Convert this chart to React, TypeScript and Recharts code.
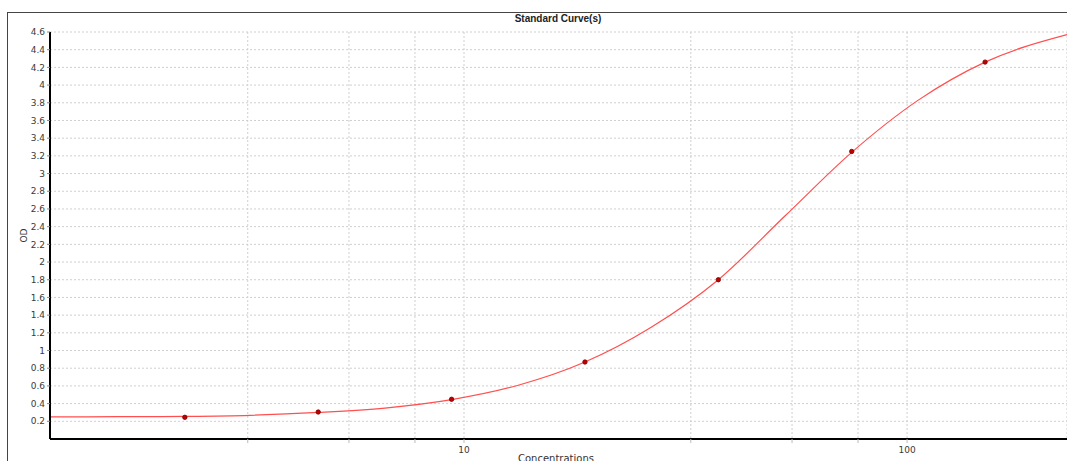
import React from "react";
import { ComposedChart, Line, Scatter, XAxis, YAxis, CartesianGrid } from "recharts";

// Standard points (concentration, OD)
const standardConc = [2.34375, 4.6875, 9.375, 18.75, 37.5, 75, 150];
const standardOD = [0.245, 0.305, 0.449, 0.87, 1.8, 3.25, 4.26];

// Fitted curve
const curveConc = [1.163, 1.65, 2.34, 3.29, 4.69, 6.63, 9.38, 13.2, 18.75, 26.4, 37.5, 53, 75, 106, 150, 229.6];
const curveOD = [0.25, 0.252, 0.256, 0.268, 0.3, 0.35, 0.445, 0.605, 0.87, 1.26, 1.8, 2.52, 3.24, 3.83, 4.26, 4.57];

// Axis ticks
const xTicks = [3.25, 5.5, 7.75, 10, 32.5, 55, 77.5, 100];
const xLabelled = [10, 100];
const yTicks = [0.2, 0.4, 0.6, 0.8, 1, 1.2, 1.4, 1.6, 1.8, 2, 2.2, 2.4, 2.6, 2.8, 3, 3.2, 3.4, 3.6, 3.8, 4, 4.2, 4.4, 4.6];
const xDomain = [1.163, 229.6];
const yDomain = [0, 4.6];

const standards = standardConc.map((x, i) => ({ x, y: standardOD[i] }));
const curve = curveConc.map((x, i) => ({ x, y: curveOD[i] }));

const tickFont = { fontFamily: "DejaVu Sans", fontSize: 9, fill: "#3a3a3a" };

const PointShape = (p: any) => (
  <circle cx={p.cx} cy={p.cy} r={2.2} fill="#c00000" stroke="#7a0000" strokeWidth={0.8} />
);

export default function App() {
  return (
    <div style={{ position: "absolute", left: 0, top: 0, width: 1067, height: 461, overflow: "hidden", background: "#fff" }}>
      <div style={{ position: "absolute", left: 7, top: 12, width: 1200, height: 600, borderLeft: "1px solid #444", borderTop: "1px solid #444" }} />
      <div
        style={{
          position: "absolute",
          left: 0,
          width: 1116,
          top: 13,
          textAlign: "center",
          fontFamily: "Liberation Sans",
          fontWeight: "bold",
          fontSize: 10,
          color: "#222",
        }}
      >
        Standard Curve(s)
      </div>
      <div
        style={{
          position: "absolute",
          left: 0,
          width: 1112,
          top: 453,
          textAlign: "center",
          fontFamily: "DejaVu Sans",
          fontSize: 10,
          lineHeight: "12px",
          color: "#333",
        }}
      >
        Concentrations
      </div>
      <div
        style={{
          position: "absolute",
          left: 9,
          top: 230,
          width: 30,
          textAlign: "center",
          fontFamily: "DejaVu Sans",
          fontSize: 9,
          lineHeight: "11px",
          color: "#333",
          transform: "rotate(-90deg)",
        }}
      >
        OD
      </div>
      <div style={{ position: "absolute", left: 0, top: 0 }}>
        <ComposedChart width={1067} height={461} margin={{ top: 32, right: 0, bottom: 0, left: 0 }}>
          <CartesianGrid stroke="#cfcfcf" strokeDasharray="2 2" />
          <XAxis
            dataKey="x"
            type="number"
            scale="log"
            domain={xDomain}
            ticks={xTicks}
            allowDataOverflow
            height={22}
            tickSize={4}
            tickMargin={4}
            tickLine={{ stroke: "#bbb" }}
            axisLine={{ stroke: "#000", strokeWidth: 2 }}
            tick={tickFont}
            tickFormatter={(v: number) => (xLabelled.includes(v) ? String(v) : "")}
            interval={0}
          />
          <YAxis
            type="number"
            domain={yDomain}
            ticks={yTicks}
            allowDataOverflow
            width={50}
            tickSize={3}
            tickMargin={2}
            tickLine={{ stroke: "#888" }}
            axisLine={{ stroke: "#000", strokeWidth: 2 }}
            tick={tickFont}
            interval={0}
          />
          <Line
            data={curve}
            dataKey="y"
            type="monotone"
            stroke="#ff4f4f"
            strokeWidth={1.2}
            dot={false}
            activeDot={false}
            isAnimationActive={false}
          />
          <Scatter data={standards} dataKey="y" shape={PointShape} isAnimationActive={false} />
        </ComposedChart>
      </div>
    </div>
  );
}
